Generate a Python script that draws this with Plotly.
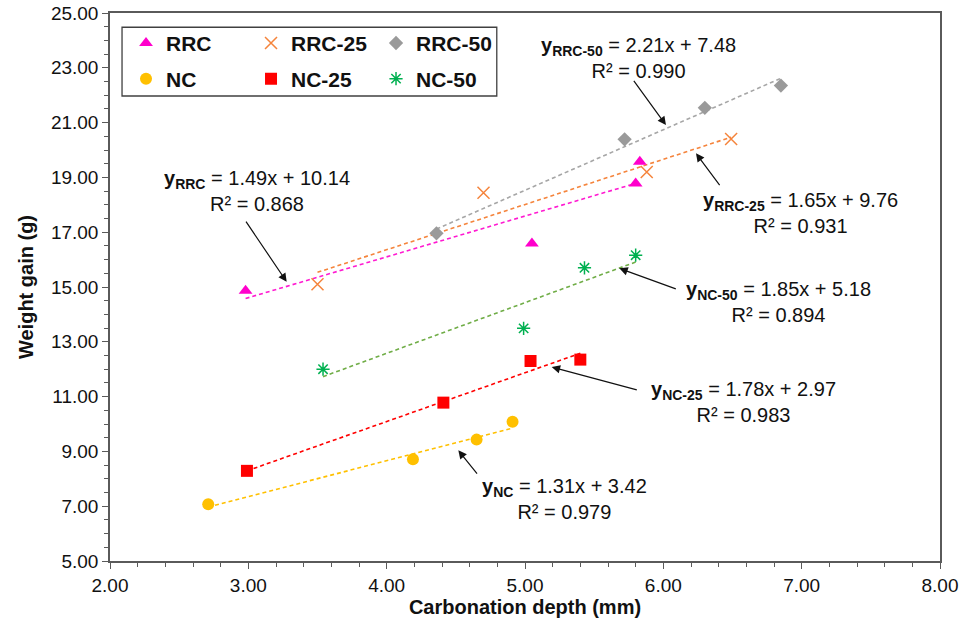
import plotly.graph_objects as go

# ---- data ----
series_names = ["RRC", "RRC-25", "RRC-50", "NC", "NC-25", "NC-50"]

rrc_x = [2.98, 5.05, 5.80, 5.83]
rrc_y = [14.86, 16.59, 18.78, 19.57]
rrc25_x = [3.50, 4.70, 5.88, 6.49]
rrc25_y = [15.10, 18.44, 19.20, 20.40]
rrc50_x = [4.36, 5.72, 6.30, 6.85]
rrc50_y = [16.96, 20.39, 21.54, 22.35]
nc_x = [2.71, 4.19, 4.65, 4.91]
nc_y = [7.07, 8.71, 9.43, 10.08]
nc25_x = [2.99, 4.41, 5.04, 5.40]
nc25_y = [8.29, 10.78, 12.30, 12.35]
nc50_x = [3.54, 4.99, 5.43, 5.80]
nc50_y = [12.00, 13.49, 15.70, 16.16]

slopes = [1.49, 1.65, 2.21, 1.31, 1.78, 1.85]
intercepts = [10.14, 9.76, 7.48, 3.42, 2.97, 5.18]
r_squared = [0.868, 0.931, 0.990, 0.979, 0.983, 0.894]

x_tick_vals = [2, 3, 4, 5, 6, 7, 8]
y_tick_vals = [5, 7, 9, 11, 13, 15, 17, 19, 21, 23, 25]

# ---- styles ----
xs = [rrc_x, rrc25_x, rrc50_x, nc_x, nc25_x, nc50_x]
ys = [rrc_y, rrc25_y, rrc50_y, nc_y, nc25_y, nc50_y]
marker_colors = ["#ff00cc", "#f5843c", "#9a9a9a", "#ffc000", "#ff0000", "#00b050"]
line_colors = ["#ff1ad1", "#f5843c", "#a6a6a6", "#ffc000", "#ff0000", "#70ad47"]
symbols = ["triangle-up", "x-thin-open", "diamond", "circle", "square", "asterisk-open"]
sizes = [12, 12, 11, 12, 12, 11]
legend_ids = ["legend", "legend", "legend", "legend2", "legend2", "legend2"]

FONT = "Liberation Sans, Arial, Helvetica, sans-serif"

fig = go.Figure()

# trend lines
for i in range(6):
    x0, x1 = min(xs[i]), max(xs[i])
    fig.add_trace(go.Scatter(
        x=[x0, x1], y=[slopes[i] * x0 + intercepts[i], slopes[i] * x1 + intercepts[i]],
        mode="lines", line=dict(color=line_colors[i], width=1.6, dash="4px,3px"),
        showlegend=False, hoverinfo="skip"))

# markers
for i in range(6):
    open_sym = symbols[i].endswith("open")
    fig.add_trace(go.Scatter(
        x=xs[i], y=ys[i], mode="markers", name=series_names[i],
        legend=legend_ids[i],
        marker=dict(symbol=symbols[i], size=sizes[i], color=marker_colors[i],
                    line=dict(color=marker_colors[i], width=1.5 if open_sym else 0))))

# equation labels and arrows (positions in data units)
label_pos = [(3.063, 18.50), (6.995, 17.70), (5.824, 23.375),
             (5.289, 7.27), (6.583, 10.80), (6.829, 14.45)]
arrow_tail = [(2.976, 17.44), (6.415, 18.66), (5.779, 22.58),
              (4.662, 8.13), (5.819, 11.23), (6.101, 14.91)]
arrow_head = [(3.277, 15.19), (6.236, 19.88), (6.019, 20.91),
              (4.518, 9.04), (5.193, 12.08), (5.682, 15.68)]

annotations = []
for i in range(6):
    txt = (f"<b>y</b><sub><b>{series_names[i]}</b></sub> = {slopes[i]:.2f}x + {intercepts[i]:.2f}"
           f"<br>R² = {r_squared[i]:.3f}")
    annotations.append(dict(x=label_pos[i][0], y=label_pos[i][1], xref="x", yref="y",
                            text=txt, showarrow=False, align="center",
                            font=dict(family=FONT, size=20, color="#111111")))
    annotations.append(dict(x=arrow_head[i][0], y=arrow_head[i][1], xref="x", yref="y",
                            ax=arrow_tail[i][0], ay=arrow_tail[i][1], axref="x", ayref="y",
                            text="", showarrow=True, arrowhead=2, arrowsize=1.4,
                            arrowwidth=1.2, arrowcolor="#111111", standoff=0))

axis_common = dict(showline=True, linecolor="#5a5a5a", linewidth=1.5, mirror=True,
                   showgrid=False, zeroline=False, ticks="outside", ticklen=6,
                   tickcolor="#5a5a5a", tickwidth=1.2, automargin=False,
                   tickfont=dict(family=FONT, size=19, color="#111111"))

legend_common = dict(orientation="h", xanchor="left", yanchor="top",
                     entrywidth=80, bgcolor="rgba(0,0,0,0)", borderwidth=0,
                     font=dict(family=FONT, size=21, color="#111111", weight="bold"),
                     traceorder="normal")

fig.update_layout(
    width=960, height=627,
    margin=dict(l=110, r=20, t=13, b=66, autoexpand=False),
    paper_bgcolor="white", plot_bgcolor="white",
    annotations=annotations,
    xaxis=dict(range=[2, 8], tickvals=x_tick_vals,
               ticktext=[f"{v:.2f}" for v in x_tick_vals],
               minor=dict(dtick=0.2, ticks="outside", ticklen=4, tickcolor="#5a5a5a"),
               title=dict(text="<b>Carbonation depth (mm)</b>", standoff=4,
                          font=dict(family=FONT, size=20, color="#111111")),
               **axis_common),
    yaxis=dict(range=[5, 25], tickvals=y_tick_vals,
               ticktext=[f"{v:.2f}" for v in y_tick_vals],
               minor=dict(dtick=0.5, ticks="outside", ticklen=4, tickcolor="#5a5a5a"),
               title=dict(text="<b>Weight gain (g)</b>", standoff=12,
                          font=dict(family=FONT, size=20, color="#111111")),
               **axis_common),
    legend=dict(x=0.0193, y=0.982, **legend_common),
    legend2=dict(x=0.0193, y=0.917, **legend_common),
    shapes=[dict(type="rect", xref="paper", yref="paper",
                 x0=0.0145, x1=0.466, y0=0.8485, y1=0.974,
                 line=dict(color="#404040", width=1.3), fillcolor="white", layer="below")],
)

fig.write_html("out.html", config={"displayModeBar": False},
               post_script="document.body.style.margin='0';")
